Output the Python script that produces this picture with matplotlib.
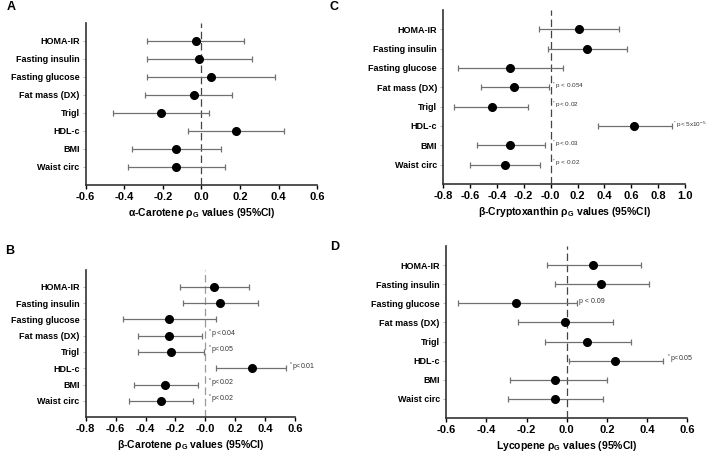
import matplotlib.pyplot as plt
import numpy as np

plt.rcParams['font.family'] = ['Liberation Sans', 'DejaVu Sans']
plt.rcParams['mathtext.default'] = 'regular'

labels = ['HOMA-IR', 'Fasting insulin', 'Fasting glucose', 'Fat mass (DX)',
          'Trigl', 'HDL-c', 'BMI', 'Waist circ']

# A: alpha-Carotene
a_val = [-0.03, -0.01, 0.05, -0.04, -0.21, 0.18, -0.13, -0.13]
a_lo = [-0.28, -0.28, -0.28, -0.29, -0.46, -0.07, -0.36, -0.38]
a_hi = [0.22, 0.26, 0.38, 0.16, 0.04, 0.43, 0.10, 0.12]
a_notes = {}

# B: beta-Carotene
b_val = [0.06, 0.10, -0.245, -0.245, -0.23, 0.31, -0.27, -0.30]
b_lo = [-0.17, -0.15, -0.55, -0.45, -0.45, 0.07, -0.48, -0.51]
b_hi = [0.29, 0.35, 0.07, -0.02, -0.01, 0.54, -0.05, -0.08]
b_notes = {'Fat mass (DX)': '$^*$p <0.04', 'Trigl': '$^*$p<0.05', 'HDL-c': '$^*$p<0.01',
           'BMI': '$^*$p<0.02', 'Waist circ': '$^*$p<0.02'}

# C: beta-Cryptoxanthin
c_val = [0.21, 0.27, -0.30, -0.27, -0.44, 0.62, -0.30, -0.34]
c_lo = [-0.09, -0.02, -0.69, -0.52, -0.72, 0.35, -0.55, -0.60]
c_hi = [0.51, 0.57, 0.09, -0.01, -0.17, 0.90, -0.04, -0.08]
c_notes = {'Fat mass (DX)': '$^*$p < 0.054', 'Trigl': '$^*$p< 0.02',
           'HDL-c': '$^*$p< 5x10$^{-5}$', 'BMI': '$^*$p< 0.03', 'Waist circ': '$^*$p < 0.02'}

# D: Lycopene
d_val = [0.13, 0.17, -0.25, -0.01, 0.10, 0.24, -0.06, -0.06]
d_lo = [-0.10, -0.06, -0.54, -0.24, -0.11, 0.01, -0.28, -0.29]
d_hi = [0.37, 0.41, 0.05, 0.23, 0.32, 0.48, 0.20, 0.18]
d_notes = {'Fasting glucose': 'p < 0.09', 'HDL-c': '$^*$p<0.05'}


def forest(ax, val, lo, hi, notes, xticks, xlabel, note_size=5, line_col='#444444'):
    val = np.array(val)
    y = np.arange(len(labels), 0, -1)
    err = [val - np.array(lo), np.array(hi) - val]
    ax.axvline(0, color=line_col, lw=0.9, dashes=(6, 3), zorder=1)
    ax.errorbar(val, y, xerr=err, fmt='o', color='black', ms=5.5,
                ecolor='#707070', elinewidth=0.9, capsize=2.5, capthick=0.9, zorder=3)
    for i, lab in enumerate(labels):
        if lab in notes:
            ax.text(max(0, hi[i]) + 0.012, y[i] + 0.08, notes[lab], fontsize=note_size,
                    color='#333333', va='center', ha='left')
    ax.set_ylim(0, 9)
    ax.set_xlim(xticks[0], xticks[-1])
    ax.set_xticks(xticks)
    ax.set_xticklabels(['%.1f' % t for t in xticks], fontsize=8, fontweight='bold')
    ax.set_yticks(y)
    ax.set_yticklabels(labels, fontsize=6.5, fontweight='bold')
    ax.tick_params(axis='y', length=2, width=0.6, color='#aaaaaa', pad=2.5)
    ax.tick_params(axis='x', length=3, width=1, pad=2)
    for s in ['top', 'right']:
        ax.spines[s].set_visible(False)
    for s in ['left', 'bottom']:
        ax.spines[s].set_linewidth(1.2)
        ax.spines[s].set_color('#333333')
    ax.set_xlabel(xlabel, fontsize=7.5, fontweight='bold', labelpad=3)


fig = plt.figure(figsize=(7.08, 4.53), dpi=100)
axA = fig.add_axes([0.121, 0.592, 0.327, 0.358])
axC = fig.add_axes([0.626, 0.594, 0.3415, 0.384])
axB = fig.add_axes([0.121, 0.079, 0.296, 0.324])
axD = fig.add_axes([0.630, 0.077, 0.341, 0.380])

forest(axA, a_val, a_lo, a_hi, a_notes, np.arange(-0.6, 0.61, 0.2),
       'α-Carotene ρ$_{G}$ values (95%CI)')
forest(axB, b_val, b_lo, b_hi, b_notes, np.arange(-0.8, 0.61, 0.2),
       'β-Carotene ρ$_{G}$ values (95%CI)', line_col='#999999')
forest(axC, c_val, c_lo, c_hi, c_notes, np.arange(-0.8, 1.01, 0.2),
       'β-Cryptoxanthin ρ$_{G}$ values (95%CI)', note_size=4.6)
forest(axD, d_val, d_lo, d_hi, d_notes, np.arange(-0.6, 0.61, 0.2),
       'Lycopene ρ$_{G}$ values (95%CI)')

for lab, x, y in [('A', 0.010, 0.984), ('C', 0.466, 0.984), ('B', 0.007, 0.446), ('D', 0.466, 0.455)]:
    fig.text(x, y, lab, fontsize=9, fontweight='bold', va='center')

plt.savefig('out.png', dpi=100)
